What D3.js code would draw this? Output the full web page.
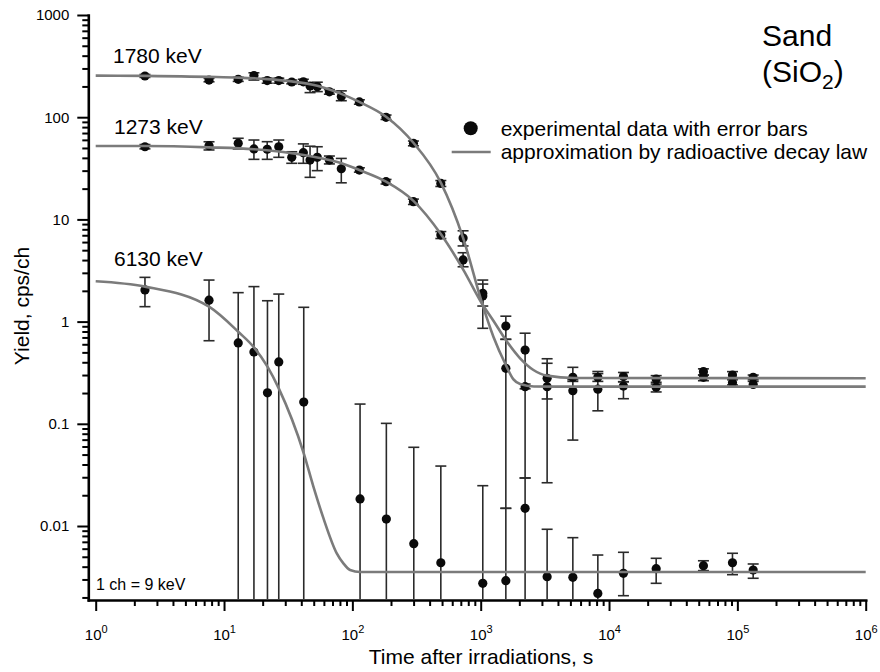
<!DOCTYPE html>
<html>
<head>
<meta charset="utf-8">
<script src="https://cdn.jsdelivr.net/npm/d3@7"></script>
<style>
  body { margin: 0; background: #fff; }
  text { font-family: "Liberation Sans", Arial, sans-serif; fill: #000; }
</style>
</head>
<body>
<div id="chart"></div>
<script>
// measurement times (s) shared by the 1780 and 1273 keV lines
const tMain = [2.42, 7.64, 12.9, 17.1, 21.7, 26.7, 33.7, 41.5, 46.8, 53.3, 66.2, 82, 113.4, 183, 299, 489,
               729, 1038, 1570, 2218, 3293, 5224, 8180, 12950, 23300, 54400, 91600, 132800];

// 1780 keV yield, with error bar bounds
const y1780  = [253, 231, 235, 256, 228, 228, 221, 222, 202, 199, 177, 159, 141, 99.8, 55.6, 22.5,
                6.58, 1.89, 0.349, 0.231, 0.231, 0.211, 0.218, 0.234, 0.228, 0.285, 0.252, 0.243];
const lo1780 = [245, 222, 224, 231, 215, 215, 212, 210, 174, 178, 168, 145, 134, 95, 52.5, 21,
                5.5, 1.42, 0.0149, 0.22, 0.175, 0.0693, 0.134, 0.176, 0.205, 0.264, 0.24, 0.228];
const hi1780 = [262, 240, 246, 272, 241, 241, 231, 235, 215, 220, 186, 181, 148, 105, 58.5, 24,
                7.74, 2.55, 0.671, 0.245, 0.391, 0.27, 0.31, 0.258, 0.245, 0.30, 0.27, 0.26];

// 1273 keV yield
const y1273  = [51.4, 52.6, 55.6, 48.9, 48.6, 51.4, 40.5, 45, 38.1, 40.5, 38.1, 31.3, 30.4, 23.4, 14.9, 7.03,
                4.01, 1.78, 0.905, 0.527, 0.279, 0.285, 0.285, 0.29, 0.274, 0.324, 0.30, 0.285];
const lo1273 = [49, 47.8, 48.9, 38.7, 38.7, 40.5, 35.4, 35.4, 25.8, 30, 34.9, 22.8, 29, 22.2, 14, 6.5,
                3.44, 0.86, 0.671, 0.0295, 0.0265, 0.26, 0.26, 0.258, 0.255, 0.30, 0.28, 0.27];
const hi1273 = [54, 57.5, 62.2, 59.8, 57.6, 59.8, 45.9, 54.8, 52, 51.4, 41.7, 39.5, 32, 24.6, 15.8, 7.6,
                4.72, 2.33, 1.13, 0.77, 0.433, 0.357, 0.325, 0.318, 0.296, 0.345, 0.324, 0.30];

// 6130 keV line (lower bound 0 = bar runs past the axis)
const t6130  = [2.42, 7.64, 12.9, 17.1, 21.8, 26.7, 41.8, 114.8, 184, 301, 489, 1038, 1570, 2218,
                3293, 5224, 8180, 12950, 23300, 54400, 91600, 132800];
const y6130  = [2.04, 1.62, 0.618, 0.504, 0.201, 0.403, 0.163, 0.0184, 0.0117, 0.00671, 0.00437, 0.00275,
                0.00292, 0.0149, 0.00319, 0.00315, 0.00219, 0.00344, 0.00382, 0.00409, 0.00437, 0.00371];
const lo6130 = [1.40, 0.65, 0, 0, 0, 0, 0, 0, 0, 0, 0, 0, 0, 0, 0, 0, 0,
                0.00208, 0.00275, 0.00366, 0.00334, 0.00308];
const hi6130 = [2.71, 2.55, 1.92, 2.20, 1.60, 1.86, 1.38, 0.156, 0.101, 0.0589, 0.0386, 0.0248, 0.0149, 0.0295,
                0.00929, 0.00769, 0.0052, 0.00553, 0.00483, 0.00457, 0.00541, 0.00425];

// fitted decay curves
const fitT1780 = [1, 2.42, 7.64, 12.9, 21.7, 33.7, 53.3, 80.2, 113.4, 183, 299, 489, 729, 1030, 1256, 1570, 1800, 2028, 2600, 4000, 1e6];
const fitY1780 = [255, 254, 248, 244, 236, 224, 203, 171, 141, 101, 56.2, 22.9, 6.6, 1.48, 0.711, 0.376, 0.272, 0.245, 0.232, 0.231, 0.231];
const fitT1273 = [1, 2.42, 7.64, 17.1, 33.7, 66.2, 80.2, 113.4, 183, 299, 489, 729, 1030, 1256, 1570, 2028, 2576, 3275, 5370, 1e6];
const fitY1273 = [52.2, 52.2, 50.7, 48.6, 44.4, 38.1, 35.9, 30.4, 23.4, 15.2, 7.19, 3.25, 1.48, 1.02, 0.66, 0.437, 0.336, 0.296, 0.281, 0.279];
const fitT6130 = [1, 2.42, 7.64, 12.9, 17.1, 21.8, 26.7, 41.8, 49.7, 59.4, 75.6, 85.1, 96, 114.8, 1e6];
const fitY6130 = [2.48, 2.20, 1.40, 0.796, 0.56, 0.362, 0.222, 0.0514, 0.0243, 0.012, 0.0054, 0.00431, 0.00371, 0.00355, 0.00355];

// axis ticks
const xTickExps = [0, 1, 2, 3, 4, 5, 6];
const yMajor = [0.01, 0.1, 1, 10, 100, 1000];
const yTickLabels = ["0.01", "0.1", "1", "10", "100", "1000"];

const lineLabels = ["1780 keV", "1273 keV", "6130 keV"];
const legendLabels = ["experimental data with error bars", "approximation by radioactive decay law"];

// layout
const width = 880, height = 672;
const plotLeft = 88.3, plotRight = 865.7, plotTop = 15, plotBottom = 600;
const fitColor = "#7b7b7b", barColor = "#2a2a2a";

const svg = d3.select("#chart").append("svg")
  .attr("width", width)
  .attr("height", height);

const x = d3.scaleLog().domain([0.8757, 1e6]).range([plotLeft, plotRight]);
const y = d3.scaleLog().domain([0.001888, 1000]).range([plotBottom, plotTop]);

// minor ticks: 2..9 within each decade
const yMinor = [], xMinor = [];
for (let e = -3; e < 3; e++)
  for (let m = 2; m <= 9; m++) {
    const v = m * Math.pow(10, e);
    if (v > y.domain()[0]) yMinor.push(v);
  }
for (let e = 0; e < 6; e++)
  for (let m = 2; m <= 9; m++) xMinor.push(m * Math.pow(10, e));

const styleAxis = g => {
  g.select(".domain").attr("stroke", "#000").attr("stroke-width", 2.6).attr("stroke-linecap", "square");
  g.selectAll(".tick line").attr("stroke", "#000").attr("stroke-width", 2);
  g.selectAll(".tick text").attr("font-size", 15).attr("font-family", "Liberation Sans, Arial, sans-serif");
};

// y axis
svg.append("g")
  .attr("transform", `translate(${plotLeft},0)`)
  .call(d3.axisLeft(y).tickValues(yMinor).tickFormat("").tickSize(6).tickSizeOuter(0))
  .call(g => g.select(".domain").remove())
  .call(styleAxis);
svg.append("g")
  .attr("transform", `translate(${plotLeft},0)`)
  .call(d3.axisLeft(y).tickValues(yMajor).tickFormat((d, i) => yTickLabels[i])
    .tickSize(11).tickPadding(8).tickSizeOuter(0))
  .call(styleAxis);

// x axis
svg.append("g")
  .attr("transform", `translate(0,${plotBottom})`)
  .call(d3.axisBottom(x).tickValues(xMinor).tickFormat("").tickSize(6).tickSizeOuter(0))
  .call(g => g.select(".domain").remove())
  .call(styleAxis);
const xAxis = svg.append("g")
  .attr("transform", `translate(0,${plotBottom})`)
  .call(d3.axisBottom(x).tickValues(xTickExps.map(e => Math.pow(10, e))).tickFormat("")
    .tickSize(11).tickSizeOuter(0))
  .call(styleAxis);
xAxis.selectAll(".tick").each(function(d, i) {
  const t = d3.select(this).select("text")
    .attr("y", 40).attr("dy", null).text(null);
  t.append("tspan").text("10");
  t.append("tspan").attr("font-size", 11).attr("dy", -7).text(xTickExps[i]);
});

// axis titles
svg.append("text")
  .attr("x", 481).attr("y", 664)
  .attr("text-anchor", "middle")
  .attr("font-size", 21)
  .text("Time after irradiations, s");
svg.append("text")
  .attr("transform", "translate(29,306) rotate(-90)")
  .attr("text-anchor", "middle")
  .attr("font-size", 21)
  .text("Yield, cps/ch");

// data with error bars
const series = [
  {t: tMain, v: y1780, lo: lo1780, hi: hi1780},
  {t: tMain, v: y1273, lo: lo1273, hi: hi1273},
  {t: t6130, v: y6130, lo: lo6130, hi: hi6130}
];
const points = series.flatMap(s => s.t.map((t, i) => ({t, v: s.v[i], lo: s.lo[i], hi: s.hi[i]})));
const capW = 5.5;
const bars = svg.append("g")
  .attr("stroke", barColor)
  .attr("stroke-width", 1.6)
  .attr("fill", "none");
points.forEach(p => {
  const px = x(p.t);
  const yHi = y(p.hi);
  const clipped = p.lo <= y.domain()[0];
  const yLo = clipped ? plotBottom - 1 : y(p.lo);
  bars.append("line").attr("x1", px).attr("x2", px).attr("y1", yHi).attr("y2", yLo);
  bars.append("line").attr("x1", px - capW).attr("x2", px + capW).attr("y1", yHi).attr("y2", yHi);
  if (!clipped)
    bars.append("line").attr("x1", px - capW).attr("x2", px + capW).attr("y1", yLo).attr("y2", yLo);
});
svg.append("g")
  .selectAll("circle")
  .data(points)
  .join("circle")
  .attr("cx", d => x(d.t))
  .attr("cy", d => y(d.v))
  .attr("r", 4.6)
  .attr("fill", "#0a0a0a");

// fitted curves
const line = d3.line()
  .x(d => x(d[0]))
  .y(d => y(d[1]))
  .curve(d3.curveMonotoneX);
const fits = [
  d3.zip(fitT1780, fitY1780),
  d3.zip(fitT1273, fitY1273),
  d3.zip(fitT6130, fitY6130)
];
svg.append("g")
  .selectAll("path")
  .data(fits)
  .join("path")
  .attr("fill", "none")
  .attr("stroke", fitColor)
  .attr("stroke-width", 2.6)
  .attr("d", line);

// line labels
const labelPos = [[113, 62.5], [114, 133.5], [114, 266]];
svg.append("g")
  .selectAll("text")
  .data(lineLabels)
  .join("text")
  .attr("x", (d, i) => labelPos[i][0])
  .attr("y", (d, i) => labelPos[i][1])
  .attr("font-size", 21)
  .text(d => d);

svg.append("text")
  .attr("x", 96).attr("y", 590)
  .attr("font-size", 16)
  .text("1 ch = 9 keV");

// sample name
svg.append("text")
  .attr("x", 762).attr("y", 46)
  .attr("font-size", 30)
  .text("Sand");
const sio = svg.append("text")
  .attr("x", 762).attr("y", 82)
  .attr("font-size", 30);
sio.append("tspan").text("(SiO");
sio.append("tspan").attr("font-size", 21).attr("dy", 7).text("2");
sio.append("tspan").attr("dy", -7).text(")");

// legend
const legend = svg.append("g");
legend.append("circle")
  .attr("cx", 470.7).attr("cy", 128.3).attr("r", 7)
  .attr("fill", "#0a0a0a");
legend.append("line")
  .attr("x1", 451.7).attr("x2", 490.7)
  .attr("y1", 152).attr("y2", 152)
  .attr("stroke", fitColor).attr("stroke-width", 2.6);
legend.selectAll("text")
  .data(legendLabels)
  .join("text")
  .attr("x", 500.7)
  .attr("y", (d, i) => 135.5 + i * 23.5)
  .attr("font-size", 21)
  .text(d => d);
</script>
</body>
</html>
